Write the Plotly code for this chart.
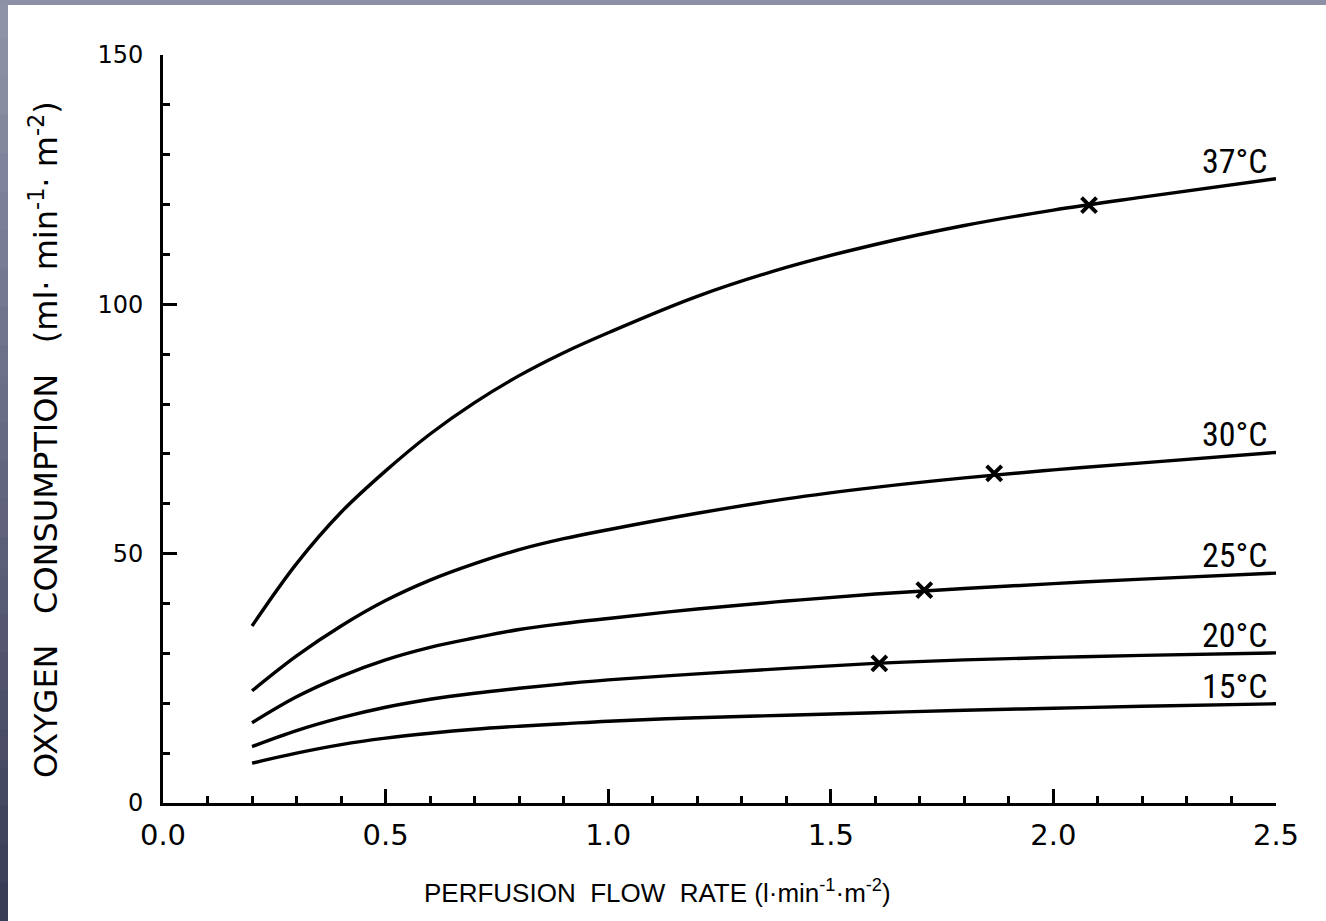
import plotly.graph_objects as go

# ---- data ----
flow = [0.2, 0.3, 0.4, 0.5, 0.6, 0.7, 0.8, 0.9, 1.0, 1.2, 1.4, 1.6, 1.8, 2.0, 2.2, 2.5]
vo2_37 = [35.5, 48.0, 58.3, 66.6, 74.0, 80.3, 85.7, 90.3, 94.3, 101.6, 107.4, 112.0, 115.8, 118.9, 121.5, 125.2]
vo2_30 = [22.5, 29.5, 35.5, 40.6, 44.7, 48.0, 50.8, 53.0, 54.8, 58.1, 61.0, 63.3, 65.2, 66.8, 68.2, 70.3]
vo2_25 = [16.1, 21.3, 25.4, 28.7, 31.2, 33.1, 34.8, 36.0, 37.0, 38.9, 40.5, 41.9, 43.0, 44.0, 44.9, 46.1]
vo2_20 = [11.3, 14.5, 17.1, 19.2, 20.8, 22.0, 23.0, 23.9, 24.7, 25.9, 27.0, 28.0, 28.7, 29.2, 29.6, 30.1]
vo2_15 = [8.0, 10.0, 11.7, 13.0, 14.0, 14.8, 15.4, 15.9, 16.4, 17.1, 17.6, 18.1, 18.6, 19.0, 19.4, 19.9]

series_names = ["37°C", "30°C", "25°C", "20°C", "15°C"]
series_values = [vo2_37, vo2_30, vo2_25, vo2_20, vo2_15]

# "x" marks on curves
mark_x = [2.08, 1.867, 1.71, 1.609]
mark_y = [119.9, 66.1, 42.7, 28.0]

x_ticks = [0.0, 0.5, 1.0, 1.5, 2.0, 2.5]
y_ticks = [0, 50, 100, 150]

# ---- figure geometry ----
W, H = 1326, 921
ML, MR, MT, MB = 163, 50, 55, 118
PW, PH = W - ML - MR, H - MT - MB

def px_to_paper_x(px):
    return (px - ML) / PW

def px_to_paper_y(py):
    return (H - MB - py) / PH

fig = go.Figure()

for name, vals in zip(series_names, series_values):
    fig.add_trace(go.Scatter(
        x=flow, y=vals, mode="lines", name=name,
        line=dict(color="black", width=3.4, shape="spline", smoothing=1.0),
        showlegend=False, hoverinfo="skip",
    ))

fig.add_trace(go.Scatter(
    x=mark_x, y=mark_y, mode="markers", showlegend=False,
    marker=dict(symbol="x-thin", size=15, color="black",
                line=dict(color="black", width=4)),
))

label_font = dict(family="Liberation Sans Narrow, Roboto Condensed, Liberation Sans, Arial",
                  size=34, color="black")
annotations = []
for name, vals in zip(series_names, series_values):
    annotations.append(dict(
        x=flow[-1], y=vals[-1], xref="x", yref="y", text=name,
        showarrow=False, xanchor="right", yanchor="bottom",
        xshift=-6, yshift=-4, font=label_font,
    ))

# axis titles as annotations
annotations.append(dict(
    x=px_to_paper_x(44), y=px_to_paper_y(440), xref="paper", yref="paper",
    text="OXYGEN   CONSUMPTION   (ml· min<sup>-1</sup>· m<sup>-2</sup>)",
    textangle=-90, showarrow=False, xanchor="center", yanchor="middle",
    font=dict(family="DejaVu Sans, Verdana", size=32, color="black"),
))
annotations.append(dict(
    x=px_to_paper_x(657), y=px_to_paper_y(892), xref="paper", yref="paper",
    text="PERFUSION  FLOW  RATE (l·min<sup>-1</sup>·m<sup>-2</sup>)",
    showarrow=False, xanchor="center", yanchor="middle",
    font=dict(family="Liberation Sans, Arial", size=26, color="black"),
))

# scanned-page border strips (left gradient + top)
shapes = []
n_seg = 24
top_c = (142, 147, 168)
bot_c = (58, 61, 86)
for i in range(n_seg):
    t = i / (n_seg - 1)
    c = tuple(int(round(top_c[k] + (bot_c[k] - top_c[k]) * t)) for k in range(3))
    y0 = i * H / n_seg
    y1 = (i + 1) * H / n_seg + 1
    shapes.append(dict(
        type="rect", xref="paper", yref="paper", layer="below",
        x0=px_to_paper_x(0), x1=px_to_paper_x(8),
        y0=px_to_paper_y(y1), y1=px_to_paper_y(y0),
        fillcolor="rgb(%d,%d,%d)" % c, line=dict(width=0),
    ))
shapes.append(dict(
    type="rect", xref="paper", yref="paper", layer="below",
    x0=px_to_paper_x(0), x1=px_to_paper_x(W),
    y0=px_to_paper_y(5), y1=px_to_paper_y(0),
    fillcolor="rgb(140,145,165)", line=dict(width=0),
))

fig.update_layout(
    width=W, height=H,
    margin=dict(l=ML, r=MR, t=MT, b=MB, pad=0),
    paper_bgcolor="white", plot_bgcolor="white",
    annotations=annotations, shapes=shapes,
)

fig.update_xaxes(
    range=[0, 2.5], tickvals=x_ticks, tickformat=".1f",
    showgrid=False, zeroline=False,
    showline=True, linecolor="black", linewidth=3,
    ticks="inside", ticklen=14, tickwidth=2.5, tickcolor="black",
    minor=dict(ticks="inside", ticklen=7, tickwidth=2.5, tickcolor="black", dtick=0.1, showgrid=False),
    tickfont=dict(family="DejaVu Sans, Verdana", size=29, color="black"),
    ticklabelstandoff=4,
)
fig.update_yaxes(
    range=[0, 150], tickvals=y_ticks,
    showgrid=False, zeroline=False,
    showline=True, linecolor="black", linewidth=3,
    ticks="inside", ticklen=14, tickwidth=2.5, tickcolor="black",
    minor=dict(ticks="inside", ticklen=7, tickwidth=2.5, tickcolor="black", dtick=10, showgrid=False),
    tickfont=dict(family="DejaVu Sans, Verdana", size=24, color="black"),
    ticklabelstandoff=12,
)

fig.write_html("out.html", config={"displayModeBar": False},
               post_script="document.body.style.margin='0px';")
